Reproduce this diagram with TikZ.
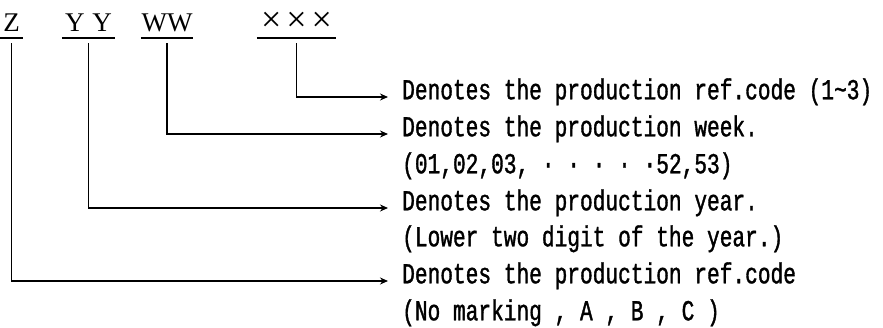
\documentclass[tikz,border=0pt]{standalone}
\usepackage{fontspec}
\setmainfont{Liberation Serif}
\newfontfamily\descfont[FakeStretch=0.73,FakeBold=1.2]{Liberation Mono}
\usetikzlibrary{arrows.meta}
\begin{document}
\begin{tikzpicture}[x=1pt,y=-1pt,
  code/.style={font=\fontsize{27}{27}\selectfont, inner sep=0pt, anchor=base, text depth=6pt},
  desc/.style={font=\descfont\fontsize{29}{29}\selectfont, inner sep=0pt, anchor=mid west},
  link/.style={line width=1.6pt, -{Stealth[length=8pt,width=7pt]}},
  uline/.style={line width=1.6pt}]
\useasboundingbox (0,0) rectangle (883,328);
% code letters
\node[code, minimum width=23pt] (z) at (11.5,32) {Z};
\node[code, minimum width=53pt] (yy) at (88.5,32) {Y\hspace{8pt}Y};
\node[code, minimum width=52pt] (ww) at (167,32) {WW};
\node[code, minimum width=79pt] (xx) at (296.5,32) {\fontsize{36}{36}\selectfont ×\hspace{5pt}×\hspace{5pt}×};
\foreach \n in {z,yy,ww,xx} \draw[uline] (\n.south west) -- (\n.south east);
% descriptions
\node[desc] (t1) at (402,97) {Denotes the production ref.code (1\textasciitilde3)};
\node[desc] (t2) at (402,134) {Denotes the production week.};
\node[desc] (t3) at (402,171) {(01,02,03,\ ·\ ·\ ·\ ·\ ·52,53)};
\node[desc] (t4) at (402,208) {Denotes the production year.};
\node[desc] (t5) at (402,244) {(Lower two digit of the year.)};
\node[desc] (t6) at (402,281) {Denotes the production ref.code};
\node[desc] (t7) at (402,318) {(No marking , A , B , C )};
% connectors
\draw[link] ([yshift=-5pt]xx.south) |- ([xshift=-14pt]t1.mid west);
\draw[link] ([yshift=-5pt]ww.south) |- ([xshift=-14pt]t2.mid west);
\draw[link] ([yshift=-5pt]yy.south) |- ([xshift=-14pt]t4.mid west);
\draw[link] ([yshift=-5pt]z.south) |- ([xshift=-14pt]t6.mid west);
\end{tikzpicture}
\end{document}
